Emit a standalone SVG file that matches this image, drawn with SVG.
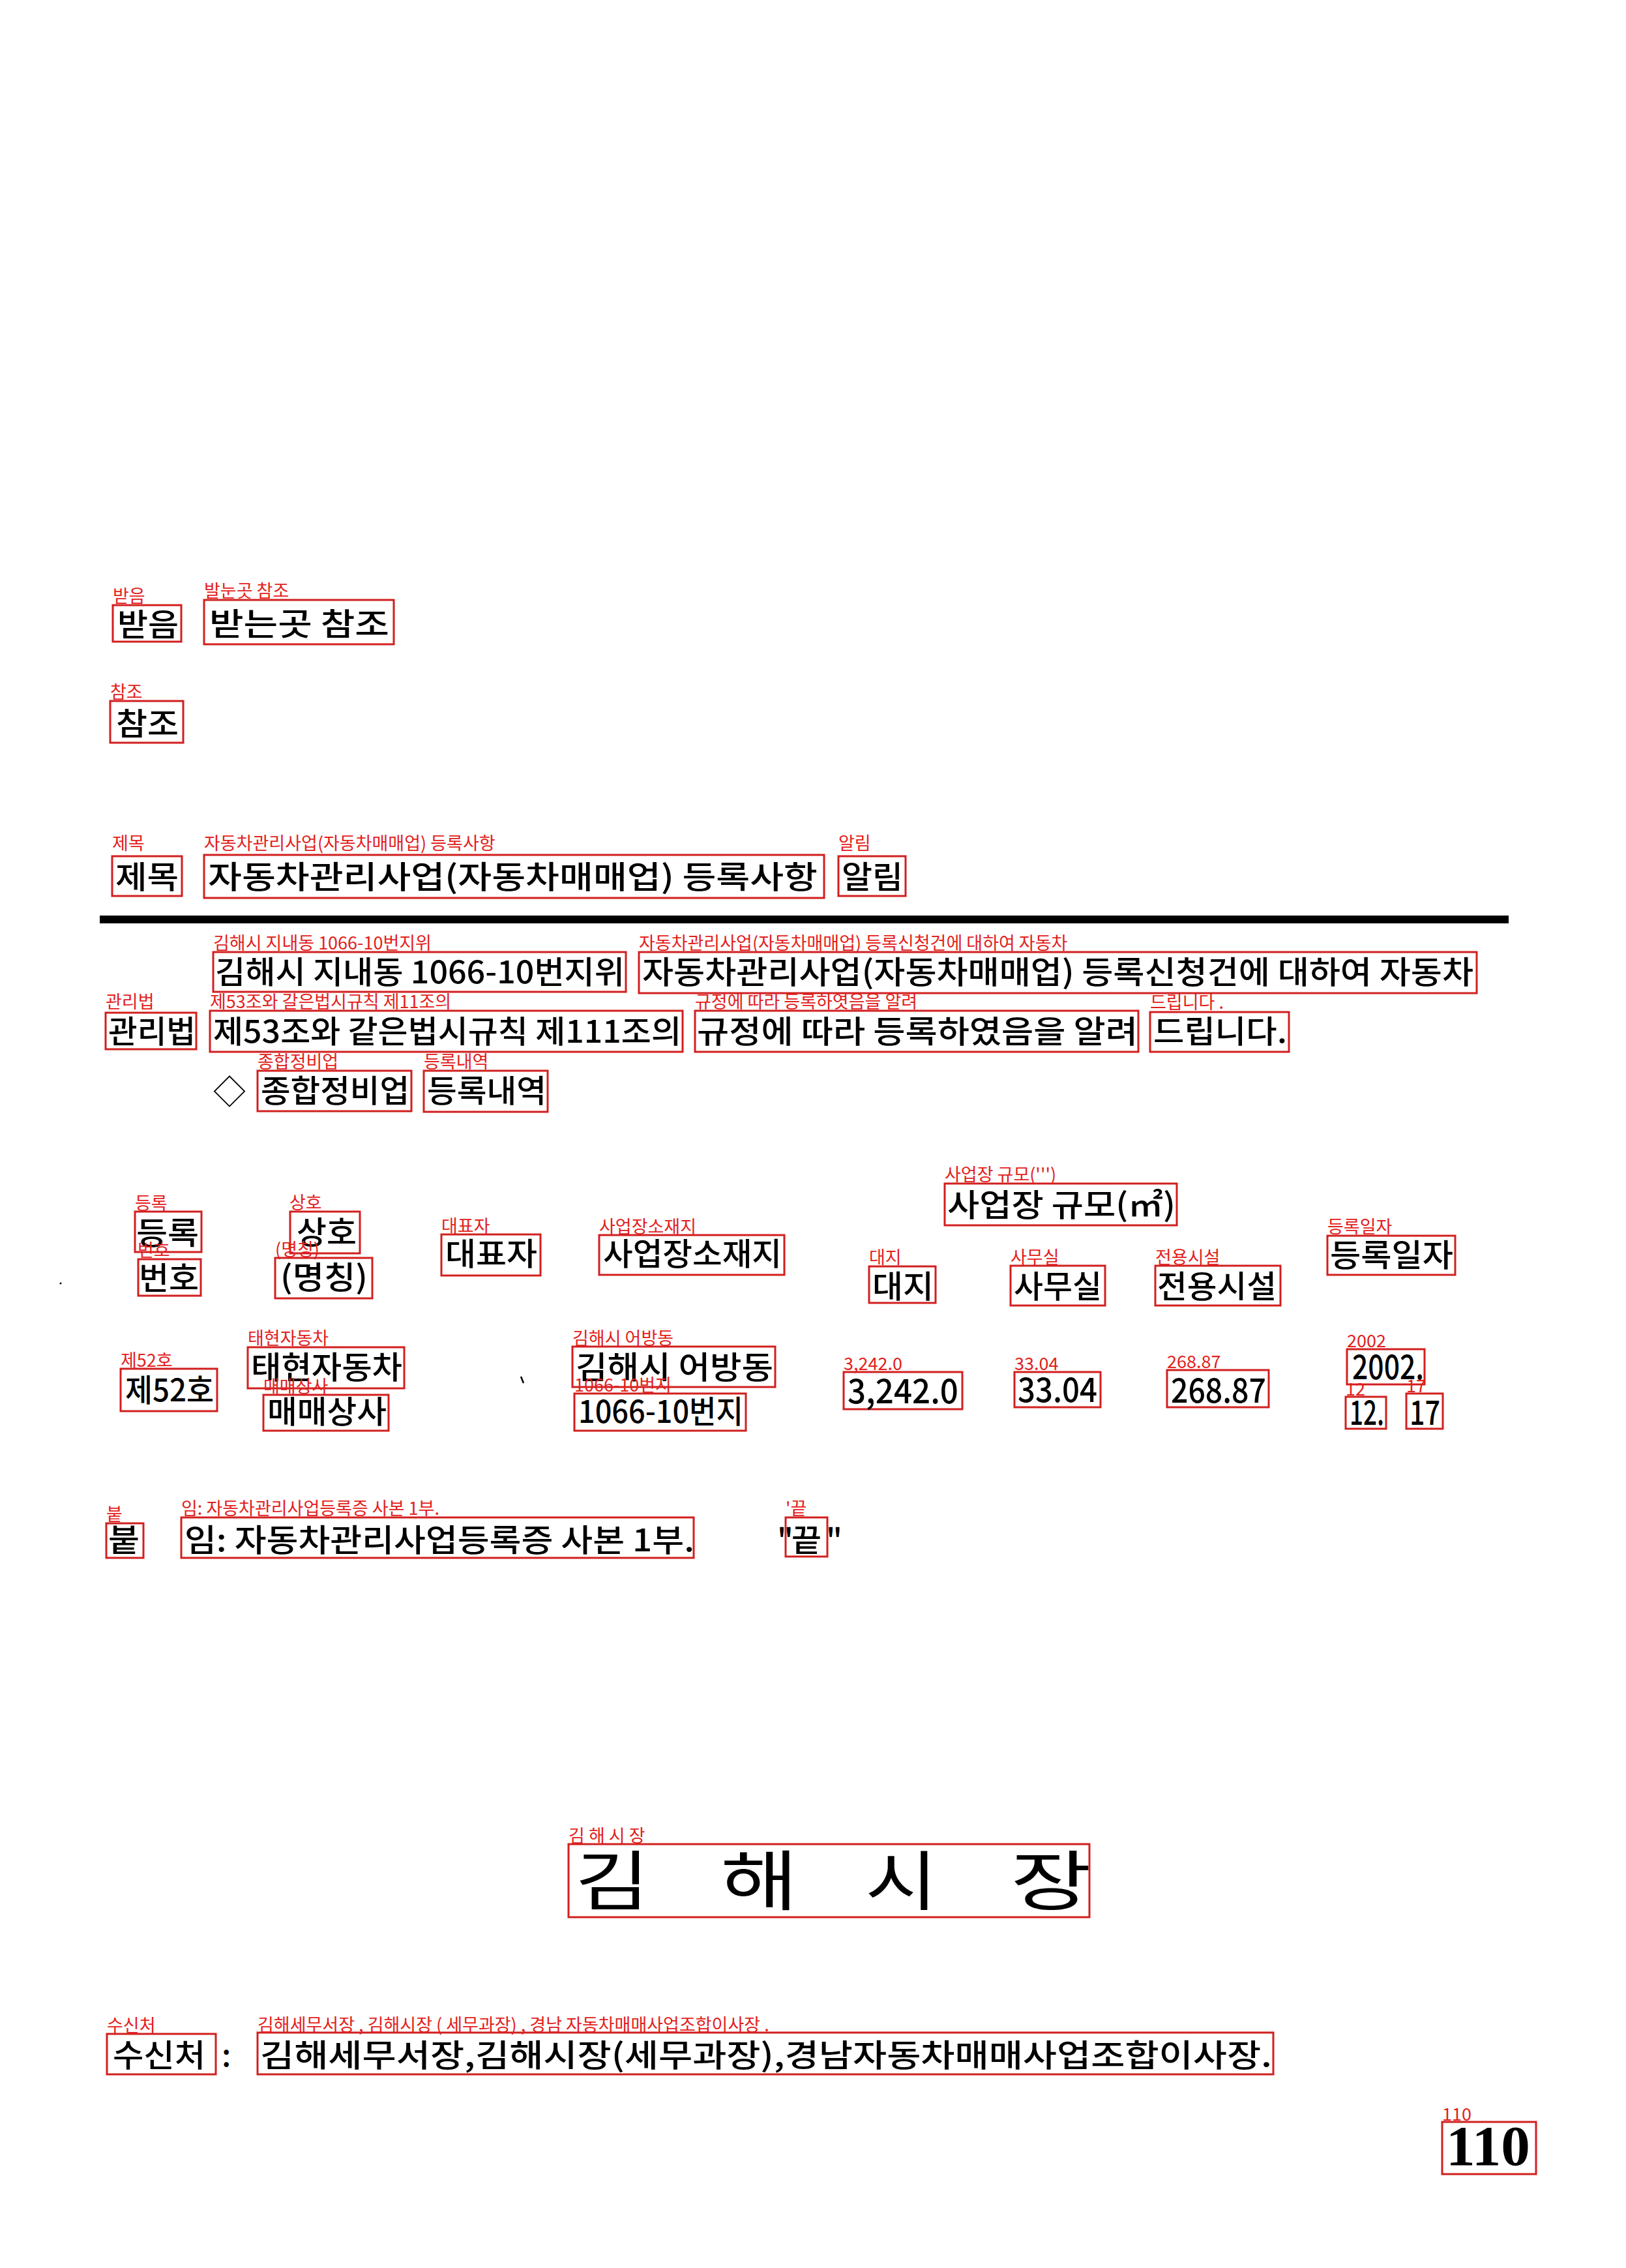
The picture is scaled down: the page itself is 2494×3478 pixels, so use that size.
<svg xmlns="http://www.w3.org/2000/svg" width="2494" height="3478" viewBox="0 0 2494 3478" xml:space="preserve">
<style>
.bg{fill:#fff}
.box{fill:none;stroke:#d21f1f;stroke-width:3}
.lbl{font-family:"Noto Sans CJK KR","Noto Sans",sans-serif;font-size:27px;fill:#e3201b}
.t{font-family:"Noto Sans CJK KR","Noto Sans",sans-serif;font-size:48px;fill:#000;font-weight:500}
.n{font-family:"Noto Sans CJK KR","Noto Sans",sans-serif;font-size:52px;fill:#000;font-weight:500}
.big{font-family:"Noto Sans CJK KR","Noto Sans",sans-serif;font-size:100px;fill:#000;font-weight:400}
.sym{font-family:"Noto Sans CJK KR","DejaVu Sans",sans-serif;font-size:50px;fill:#000}
.pg{font-family:"Liberation Serif",serif;font-weight:bold;font-size:86px;fill:#000}
</style>
<rect class="bg" x="0" y="0" width="2494" height="3478"/>
<g id="n-badeum"><rect class="box" x="173" y="928" width="105" height="56"/><text class="lbl" x="173" y="924">받음</text><text class="t" x="180" y="975" textLength="94" lengthAdjust="spacingAndGlyphs">받음</text></g>
<g id="n-badneungot"><rect class="box" x="313" y="920" width="291" height="68"/><text class="lbl" x="313" y="916">발눈곳 참조</text><text class="t" x="321" y="974" textLength="276" lengthAdjust="spacingAndGlyphs">받는곳  참조</text></g>
<g id="n-chamjo"><rect class="box" x="169" y="1075" width="112" height="64"/><text class="lbl" x="169" y="1071">참조</text><text class="t" x="178" y="1127" textLength="96" lengthAdjust="spacingAndGlyphs">참조</text></g>
<g id="n-jemok"><rect class="box" x="172" y="1313" width="107" height="61"/><text class="lbl" x="172" y="1303">제목</text><text class="t" x="177" y="1362" textLength="97" lengthAdjust="spacingAndGlyphs">제목</text></g>
<g id="n-title"><rect class="box" x="313" y="1311" width="951" height="66"/><text class="lbl" x="313" y="1303">자동차관리사업(자동차매매업) 등록사항</text><text class="t" x="319" y="1362" textLength="935" lengthAdjust="spacingAndGlyphs">자동차관리사업(자동차매매업) 등록사항</text></g>
<g id="n-allim"><rect class="box" x="1286" y="1313" width="103" height="61"/><text class="lbl" x="1286" y="1303">알림</text><text class="t" x="1291" y="1362" textLength="94" lengthAdjust="spacingAndGlyphs">알림</text></g>
<g id="rule"><rect x="153" y="1404" width="2161" height="12" fill="#000"/></g>
<g id="n-jinae"><rect class="box" x="327" y="1460" width="633" height="61"/><text class="lbl" x="327" y="1456">김해시  지내동 1066-10번지위</text><text class="t" x="330" y="1508" textLength="628" lengthAdjust="spacingAndGlyphs">김해시  지내동  1066-10번지위</text></g>
<g id="n-sincheong"><rect class="box" x="980" y="1460" width="1285" height="63"/><text class="lbl" x="980" y="1456">자동차관리사업(자동차매매업) 등록신청건에 대하여 자동차</text><text class="t" x="985" y="1508" textLength="1275" lengthAdjust="spacingAndGlyphs">자동차관리사업(자동차매매업)  등록신청건에  대하여  자동차</text></g>
<g id="n-gwanribeop"><rect class="box" x="162" y="1553" width="139" height="56"/><text class="lbl" x="162" y="1546">관리법</text><text class="t" x="166" y="1599" textLength="134" lengthAdjust="spacingAndGlyphs">관리법</text></g>
<g id="n-je53"><rect class="box" x="322" y="1550" width="725" height="63"/><text class="lbl" x="322" y="1546">제53조와 갈은법시규칙 제11조의</text><text class="t" x="327" y="1599" textLength="718" lengthAdjust="spacingAndGlyphs">제53조와  같은법시규칙  제111조의</text></g>
<g id="n-gyujeong"><rect class="box" x="1066" y="1550" width="680" height="63"/><text class="lbl" x="1066" y="1546">규정에 따라 등록하엿음을 알려</text><text class="t" x="1069" y="1599" textLength="676" lengthAdjust="spacingAndGlyphs">규정에  따라  등록하였음을  알려</text></g>
<g id="n-deurimnida"><rect class="box" x="1764" y="1552" width="213" height="61"/><text class="lbl" x="1764" y="1547">드립니다 .</text><text class="t" x="1769" y="1599" textLength="205" lengthAdjust="spacingAndGlyphs">드립니다.</text></g>
<g id="n-diamond"><text class="sym" x="327" y="1692">◇</text></g>
<g id="n-jonghap"><rect class="box" x="395" y="1642" width="236" height="62"/><text class="lbl" x="395" y="1638">종합정비업</text><text class="t" x="400" y="1690" textLength="228" lengthAdjust="spacingAndGlyphs">종합정비업</text></g>
<g id="n-deungnok-naeyeok"><rect class="box" x="650" y="1642" width="190" height="63"/><text class="lbl" x="650" y="1638">등록내역</text><text class="t" x="655" y="1690" textLength="183" lengthAdjust="spacingAndGlyphs">등록내역</text></g>
<g id="n-gyumo"><rect class="box" x="1449" y="1815" width="356" height="64"/><text class="lbl" x="1449" y="1811">사업장 규모(''')</text><text class="t" x="1453" y="1865" textLength="350" lengthAdjust="spacingAndGlyphs">사업장 규모(㎡)</text></g>
<g id="n-deungnok"><rect class="box" x="207" y="1858" width="102" height="62"/><text class="lbl" x="207" y="1855">등록</text><text class="t" x="209" y="1908" textLength="96" lengthAdjust="spacingAndGlyphs">등록</text></g>
<g id="n-beonho"><rect class="box" x="212" y="1931" width="96" height="56"/><text class="lbl" x="211" y="1927">번호</text><text class="t" x="213" y="1977" textLength="92" lengthAdjust="spacingAndGlyphs">번호</text></g>
<g id="n-sangho"><rect class="box" x="445" y="1858" width="107" height="64"/><text class="lbl" x="444" y="1854">상호</text><text class="t" x="455" y="1907" textLength="92" lengthAdjust="spacingAndGlyphs">상호</text></g>
<g id="n-myeongching"><rect class="box" x="422" y="1929" width="149" height="62"/><text class="lbl" x="422" y="1926">(명칭)</text><text class="t" x="430" y="1976" textLength="134" lengthAdjust="spacingAndGlyphs">(명칭)</text></g>
<g id="n-daepyoja"><rect class="box" x="677" y="1893" width="152" height="63"/><text class="lbl" x="677" y="1890">대표자</text><text class="t" x="683" y="1940" textLength="141" lengthAdjust="spacingAndGlyphs">대표자</text></g>
<g id="n-sojaeji"><rect class="box" x="919" y="1894" width="284" height="61"/><text class="lbl" x="919" y="1891">사업장소재지</text><text class="t" x="925" y="1940" textLength="274" lengthAdjust="spacingAndGlyphs">사업장소재지</text></g>
<g id="n-daeji"><rect class="box" x="1333" y="1942" width="102" height="56"/><text class="lbl" x="1333" y="1938">대지</text><text class="t" x="1338" y="1990" textLength="94" lengthAdjust="spacingAndGlyphs">대지</text></g>
<g id="n-samusil"><rect class="box" x="1550" y="1941" width="145" height="61"/><text class="lbl" x="1550" y="1938">사무실</text><text class="t" x="1555" y="1990" textLength="135" lengthAdjust="spacingAndGlyphs">사무실</text></g>
<g id="n-jeonyong"><rect class="box" x="1772" y="1941" width="192" height="61"/><text class="lbl" x="1772" y="1938">전용시설</text><text class="t" x="1775" y="1990" textLength="183" lengthAdjust="spacingAndGlyphs">전용시설</text></g>
<g id="n-ilja"><rect class="box" x="2036" y="1895" width="196" height="60"/><text class="lbl" x="2036" y="1891">등록일자</text><text class="t" x="2040" y="1942" textLength="189" lengthAdjust="spacingAndGlyphs">등록일자</text></g>
<g id="n-je52"><rect class="box" x="185" y="2099" width="148" height="65"/><text class="lbl" x="185" y="2096">제52호</text><text class="t" x="192" y="2149" textLength="136" lengthAdjust="spacingAndGlyphs">제52호</text></g>
<g id="n-taehyeon"><rect class="box" x="380" y="2066" width="240" height="63"/><text class="lbl" x="380" y="2062">태현자동차</text><text class="t" x="385" y="2114" textLength="232" lengthAdjust="spacingAndGlyphs">태현자동차</text></g>
<g id="n-maemae"><rect class="box" x="404" y="2139" width="192" height="55"/><text class="lbl" x="404" y="2136">매매상사</text><text class="t" x="410" y="2182" textLength="183" lengthAdjust="spacingAndGlyphs">매매상사</text></g>
<g id="speck"><path d="M799 2111 L803 2121" stroke="#000" stroke-width="2.5" fill="none"/><circle cx="93" cy="1968" r="1.5" fill="#000"/></g>
<g id="n-eobang"><rect class="box" x="878" y="2065" width="311" height="62"/><text class="lbl" x="878" y="2062">김해시 어방동</text><text class="t" x="883" y="2114" textLength="303" lengthAdjust="spacingAndGlyphs">김해시  어방동</text></g>
<g id="n-beonji"><rect class="box" x="881" y="2137" width="263" height="57"/><text class="lbl" x="881" y="2134">1066-10번지</text><text class="t" x="887" y="2182" textLength="253" lengthAdjust="spacingAndGlyphs">1066-10번지</text></g>
<g id="n-3242"><rect class="box" x="1294" y="2104" width="182" height="57"/><text class="lbl" x="1294" y="2101">3,242.0</text><text class="n" x="1300" y="2152" textLength="170" lengthAdjust="spacingAndGlyphs">3,242.0</text></g>
<g id="n-3304"><rect class="box" x="1556" y="2104" width="132" height="54"/><text class="lbl" x="1556" y="2101">33.04</text><text class="n" x="1561" y="2150" textLength="122" lengthAdjust="spacingAndGlyphs">33.04</text></g>
<g id="n-26887"><rect class="box" x="1790" y="2101" width="156" height="57"/><text class="lbl" x="1790" y="2098">268.87</text><text class="n" x="1796" y="2151" textLength="146" lengthAdjust="spacingAndGlyphs">268.87</text></g>
<g id="n-2002"><rect class="box" x="2066" y="2069" width="119" height="54"/><text class="lbl" x="2066" y="2066">2002</text><text class="n" x="2074" y="2115" textLength="110" lengthAdjust="spacingAndGlyphs">2002.</text></g>
<g id="n-12"><rect class="box" x="2064" y="2142" width="62" height="49"/><text class="lbl" x="2064" y="2140">12</text><text class="n" x="2070" y="2185" textLength="53" lengthAdjust="spacingAndGlyphs">12.</text></g>
<g id="n-17"><rect class="box" x="2157" y="2137" width="56" height="54"/><text class="lbl" x="2157" y="2135">17</text><text class="n" x="2162" y="2185" textLength="47" lengthAdjust="spacingAndGlyphs">17</text></g>
<g id="n-but"><rect class="box" x="163" y="2336" width="57" height="53"/><text class="lbl" x="163" y="2332">붙</text><text class="t" x="166" y="2379" textLength="48" lengthAdjust="spacingAndGlyphs">붙</text></g>
<g id="n-im"><rect class="box" x="278" y="2327" width="786" height="62"/><text class="lbl" x="278" y="2323">임:  자동차관리사업등록증 사본 1부.</text><text class="t" x="283" y="2379" textLength="782" lengthAdjust="spacingAndGlyphs">임:  자동차관리사업등록증  사본  1부.</text></g>
<g id="n-kkeut"><rect class="box" x="1205" y="2327" width="64" height="60"/><text class="lbl" x="1205" y="2323">'끝</text><text class="t" x="1192" y="2379">"</text><text class="t" x="1214" y="2379" textLength="46" lengthAdjust="spacingAndGlyphs">끝</text><text class="t" x="1267" y="2379">"</text></g>
<g id="n-sijang"><rect class="box" x="872" y="2828" width="799" height="112"/><text class="lbl" x="872" y="2825">김 해 시 장</text><text class="big" x="882" y="2921" textLength="114" lengthAdjust="spacingAndGlyphs">김</text><text class="big" x="1105" y="2921" textLength="119" lengthAdjust="spacingAndGlyphs">해</text><text class="big" x="1327" y="2921" textLength="111" lengthAdjust="spacingAndGlyphs">시</text><text class="big" x="1550" y="2921" textLength="124" lengthAdjust="spacingAndGlyphs">장</text></g>
<g id="n-susincheo"><rect class="box" x="164" y="3119" width="167" height="62"/><text class="lbl" x="164" y="3116">수신처</text><text class="t" x="173" y="3169" textLength="142" lengthAdjust="spacingAndGlyphs">수신처</text><text class="t" x="340" y="3169">:</text></g>
<g id="n-recipients"><rect class="box" x="395" y="3117" width="1558" height="64"/><text class="lbl" x="395" y="3115">김해세무서장 , 김해시장 ( 세무과장) , 경남 자동차매매사업조합이사장 .</text><text class="t" x="399" y="3169" textLength="1552" lengthAdjust="spacingAndGlyphs">김해세무서장,김해시장(세무과장),경남자동차매매사업조합이사장.</text></g>
<g id="n-110"><rect class="box" x="2212" y="3254" width="144" height="80"/><text class="lbl" x="2212" y="3252">110</text><text class="pg" x="2218" y="3320" textLength="129" lengthAdjust="spacingAndGlyphs">110</text></g>
<g id="connectors"></g>
</svg>
